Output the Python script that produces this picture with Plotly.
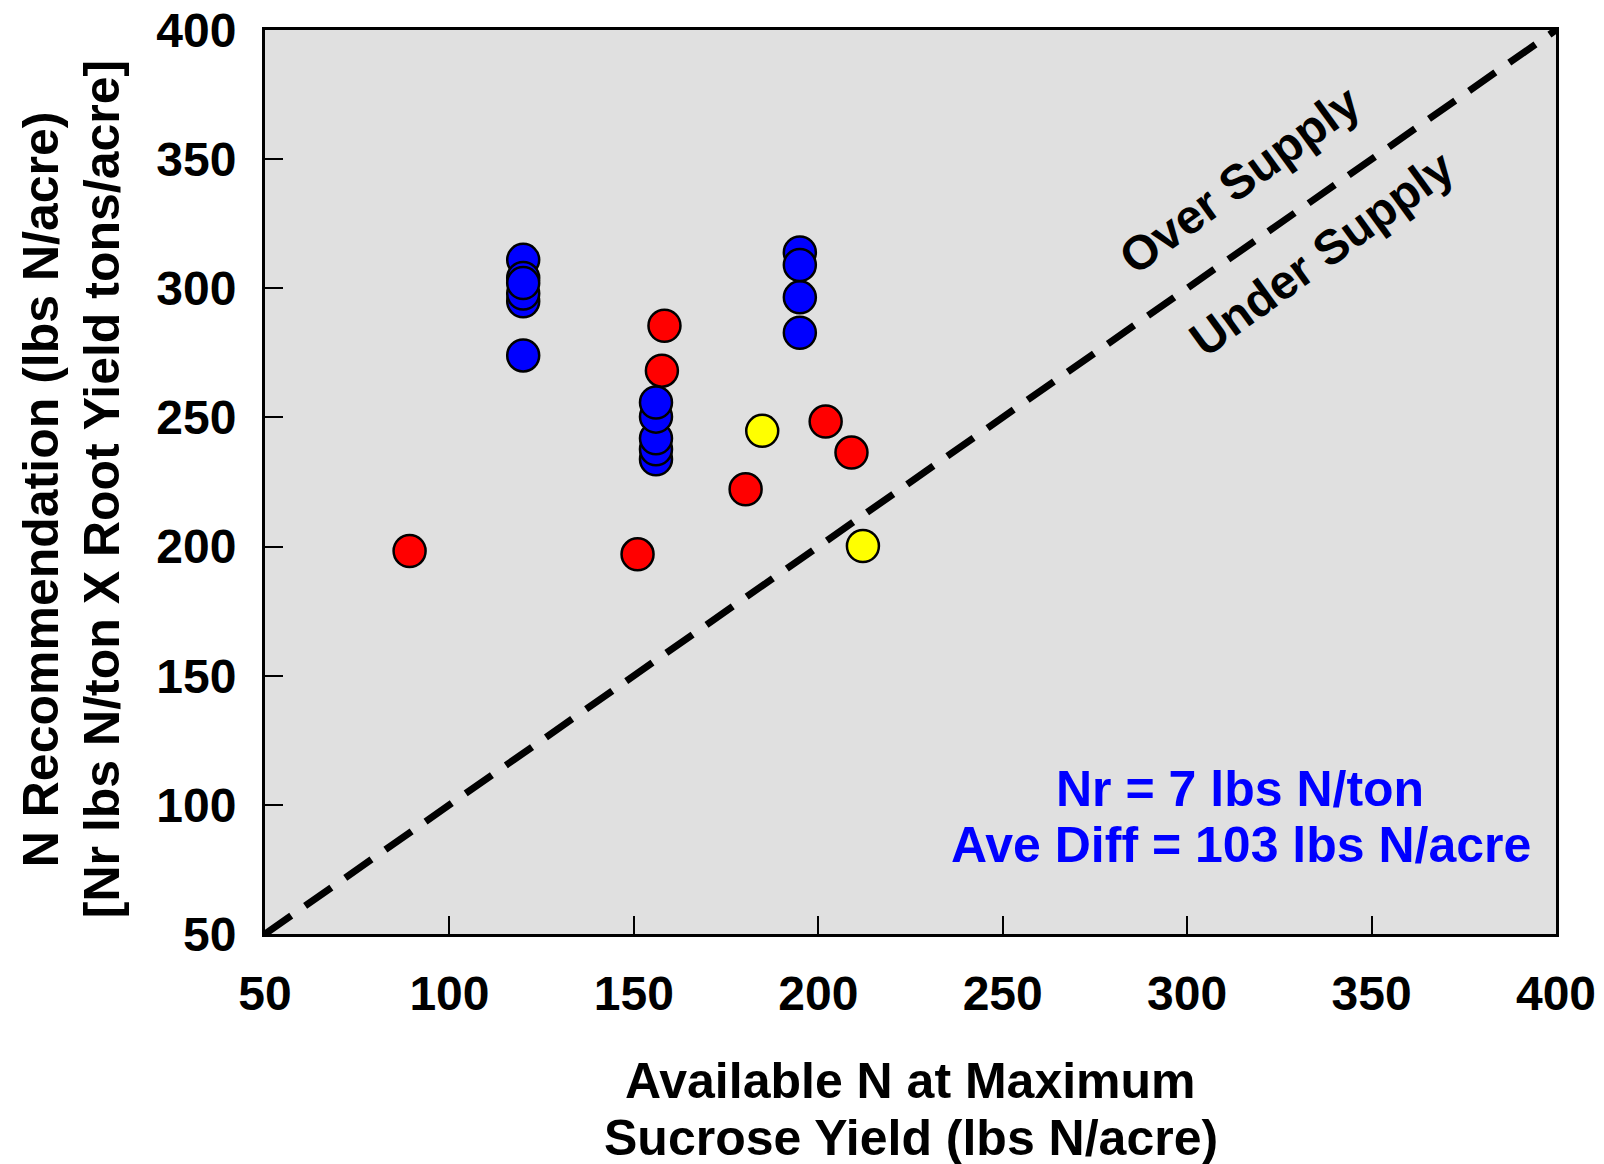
import plotly.graph_objects as go

# Data
blue_x = [120, 120, 120, 120, 120, 120, 156, 156, 156, 156, 156, 195, 195, 195, 195]
blue_y = [274, 311, 295, 298, 304, 302, 233.8, 237.7, 241.9, 250.3, 255.8, 282.8, 296.5, 313.9, 309]
red_x = [89.2, 158.3, 157.6, 151, 180.3, 202, 209]
red_y = [198.3, 285.5, 268.1, 197, 222.2, 248.4, 236.4]
yellow_x = [184.8, 212.1]
yellow_y = [244.8, 200.2]
line_x = [50, 400]
line_y = [50, 400]
x_ticks = [50, 100, 150, 200, 250, 300, 350, 400]
y_ticks = [50, 100, 150, 200, 250, 300, 350, 400]

FONT = "Liberation Sans"
marker_common = dict(size=32, line=dict(color="black", width=2.5))

fig = go.Figure()
fig.add_trace(go.Scatter(x=line_x, y=line_y, mode="lines",
                         line=dict(color="black", width=7, dash="32px,17px"),
                         hoverinfo="skip", cliponaxis=False))
fig.add_trace(go.Scatter(x=red_x, y=red_y, mode="markers",
                         marker=dict(color="#ff0000", **marker_common)))
fig.add_trace(go.Scatter(x=yellow_x, y=yellow_y, mode="markers",
                         marker=dict(color="#ffff00", **marker_common)))
fig.add_trace(go.Scatter(x=blue_x, y=blue_y, mode="markers",
                         marker=dict(color="#0000ff", **marker_common)))

axis_common = dict(
    showgrid=False, zeroline=False, showline=True, linecolor="black", linewidth=3,
    mirror=True, ticks="inside", ticklen=18, tickwidth=2, tickcolor="black",
    tickfont=dict(family=FONT, size=48, color="black", weight="bold"),
    range=[50, 400], automargin=False, ticklabeloverflow="allow",
)

fig.update_xaxes(**axis_common, tickvals=x_ticks, ticklabelstandoff=15)
fig.update_yaxes(**axis_common, tickvals=y_ticks, ticklabelstandoff=16)

ann_font = dict(family=FONT, size=50, color="black", weight="bold")
diag_font = dict(family=FONT, size=48, color="black", weight="bold")
blue_font = dict(family=FONT, size=50, color="#0000ff", weight="bold")

annotations = [
    dict(text="Available N at Maximum", x=0.5, y=-0.1626, xref="paper", yref="paper",
         showarrow=False, font=ann_font, xanchor="center", yanchor="middle"),
    dict(text="Sucrose Yield (lbs N/acre)", x=0.5, y=-0.2257, xref="paper", yref="paper",
         showarrow=False, font=ann_font, xanchor="center", yanchor="middle"),
    dict(text="N Recommendation (lbs N/acre)", x=-0.1735, y=0.492, xref="paper", yref="paper",
         showarrow=False, font=ann_font, textangle=-90, xanchor="center", yanchor="middle"),
    dict(text="[Nr lbs N/ton X Root Yield tons/acre]", x=-0.1263, y=0.492, xref="paper", yref="paper",
         showarrow=False, font=ann_font, textangle=-90, xanchor="center", yanchor="middle"),
    dict(text="Over Supply", x=314.3, y=342.3, xref="x", yref="y", showarrow=False,
         font=diag_font, textangle=-36, xanchor="center", yanchor="middle"),
    dict(text="Under Supply", x=336.5, y=313.3, xref="x", yref="y", showarrow=False,
         font=diag_font, textangle=-36, xanchor="center", yanchor="middle"),
    dict(text="Nr = 7 lbs N/ton", x=(1240 - 265) / 1291, y=(934 - 789) / 904,
         xref="paper", yref="paper", showarrow=False, font=blue_font,
         xanchor="center", yanchor="middle"),
    dict(text="Ave Diff = 103 lbs N/acre", x=(1241 - 265) / 1291, y=(934 - 845) / 904,
         xref="paper", yref="paper", showarrow=False, font=blue_font,
         xanchor="center", yanchor="middle"),
]

# The page body adds an 8px offset; margins compensate so the plot area lands
# at x 265..1556, y 30..934 in the browser window.
fig.update_layout(
    width=1604, height=1164,
    margin=dict(l=257, r=56, t=22, b=238),
    paper_bgcolor="white", plot_bgcolor="#e0e0e0",
    showlegend=False, annotations=annotations,
    font=dict(family=FONT),
)

fig.write_html("out.html")
